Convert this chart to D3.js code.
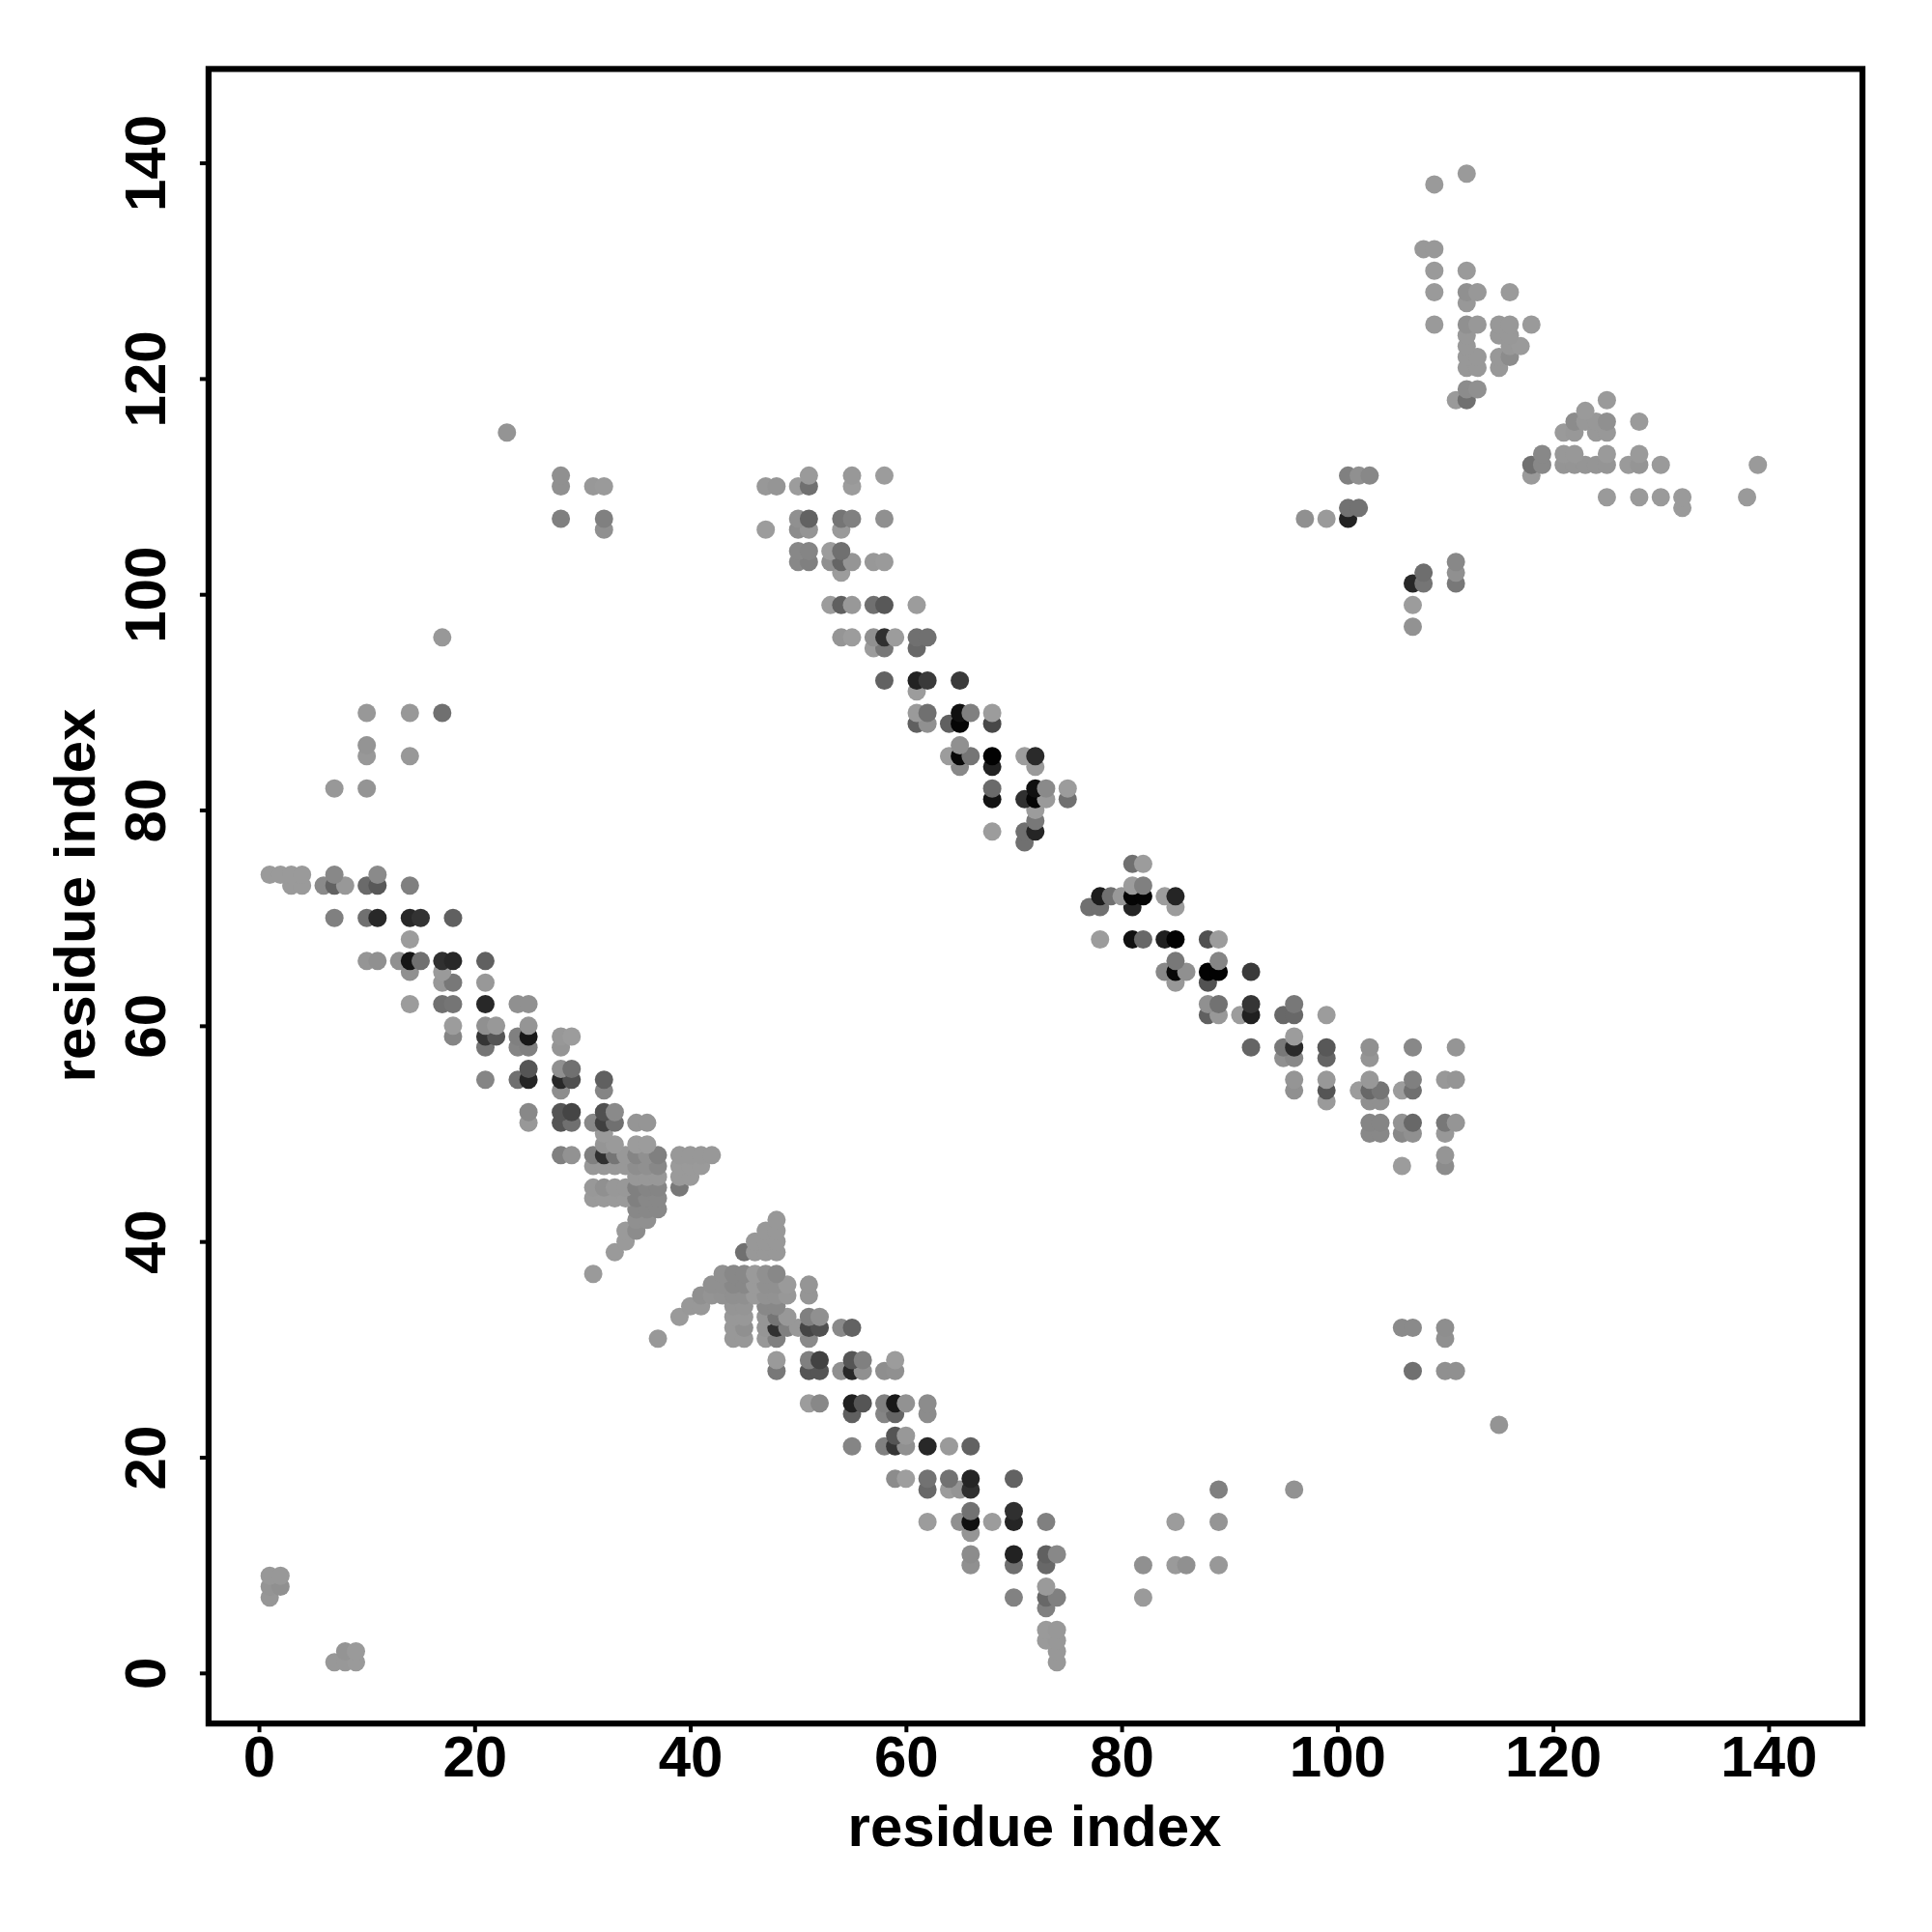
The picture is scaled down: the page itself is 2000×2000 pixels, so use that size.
<!DOCTYPE html>
<html><head><meta charset="utf-8">
<script src="https://cdn.jsdelivr.net/npm/d3@7/dist/d3.min.js"></script>
<style>html,body{margin:0;background:#fff}svg{display:block}</style>
</head><body><script>
const axisTicks=[0,20,40,60,80,100,120,140];
const axisTitle="residue index";
// residue j of each row (ascending, the drawing order)
const rowJ=[1,2,3,4,6,7,8,9,10,11,13,14,15,17,18,21,22,23,24,25,28,29,31,32,33,34,35,36,37,39,40,41,42,43,44,45,46,47,48,49,50,51,52,53,54,55,56,57,58,59,60,61,62,64,65,66,68,70,71,72,73,74,75,77,78,79,80,81,82,84,85,86,88,89,91,92,95,96,97,99,101,102,103,104,106,107,108,109,110,111,112,113,115,116,117,118,119,121,122,123,124,125,127,128,130,132,138,139];
// for each row: residue i, contact strength (0 weak .. 158 strong), repeated
const rowContacts=[
[7,6,8,6,9,4,74,6],
[8,10,9,4,74,6],
[73,4,74,6],
[73,4,74,6],
[73,30],
[1,8,70,28,73,54,74,30,82,4],
[1,10,2,14,73,4],
[1,6,2,6],
[66,14,70,46,73,54,82,14,85,4,86,14,89,6],
[66,18,70,124,73,62,74,22],
[66,9],
[62,2,65,14,66,142,68,2,70,121,73,30,85,2,89,9],
[66,44,70,110],
[62,54,64,2,65,9,66,110,89,30,96,12],
[59,18,60,0,62,44,64,44,66,121,70,60],
[55,25,58,30,59,105,60,14,62,118,64,4,66,60],
[59,73,60,6],
[115,10],
[55,62,58,25,59,57,62,18],
[51,2,52,22,55,126,56,73,58,30,59,134,60,12,62,18],
[48,38,51,73,52,73,54,14,55,118,56,14,58,16,59,14,107,46,110,14,111,14],
[48,4,51,30,52,92,55,73,56,30,59,2],
[37,6,44,6,45,6,47,6,48,30,51,20,110,14],
[44,6,45,14,47,9,48,110,49,30,50,6,51,89,52,78,54,20,55,60,106,20,107,20,110,16],
[39,4,44,6,45,6,47,9,48,41,49,6,51,30,52,14],
[40,6,41,6,44,9,45,9,47,22,48,22],
[41,14,42,10,43,12,44,14,45,14,46,4,47,12,48,12,49,6,51,9],
[42,14,43,14,44,22,45,22,46,4,47,14,48,14,49,4,51,9],
[31,4,43,14,44,22,45,22,46,4,47,14,48,22],
[33,4,45,46,46,6,47,6,48,6],
[34,4,46,6,47,6,48,6],
[34,4,35,18,47,6,48,6],
[35,14,36,14,48,6],
[35,22,36,22,37,22],
[31,4,32,4,33,4,34,4,35,30,36,22,37,22],
[31,6,32,14,33,6,34,6,35,30,36,25,37,25,39,38],
[35,6,36,6,37,6,39,4,40,4],
[31,6,32,6,33,6,34,6,35,16,36,14,37,22,39,4,40,4,41,4,106,2,110,18],
[28,30,29,12,31,30,32,110,33,41,34,6,35,25,36,14,37,30,39,6,40,6,41,6,42,6,110,9],
[32,9,33,4,35,2,36,2],
[32,4,103,22,104,22,106,22,107,14,110,6],
[25,6,28,73,29,46,31,22,32,94,33,46,35,9,36,9,103,25,104,25,106,12,107,54,110,38,111,9],
[25,22,28,73,29,89,32,78,33,20],
[99,4,103,14,104,14],
[28,16,32,25,96,14,99,73,102,2,103,54,104,41,106,2,107,46],
[21,25,24,46,25,121,28,118,29,78,32,62,96,9,99,6,103,6,107,30,110,6,111,9],
[25,73,28,14,29,46],
[95,14,96,22,99,57,103,9],
[21,41,24,25,25,30,28,9,92,57,95,38,96,116,99,70,103,14,107,22,111,9],
[18,25,21,105,22,73,24,30,25,134,28,6,29,2,96,2],
[18,2,21,14,22,6,25,9],
[88,62,89,6,91,2,92,126,95,54,96,54,99,2],
[14,2,17,46,18,41,21,118,24,14,25,14,88,14,89,44,92,105,96,38],
[17,6,18,38,21,6,85,6,88,76],
[14,14,17,4,84,22,85,150,86,14,88,156,89,156,92,100],
[10,9,11,14,13,14,14,137,15,46,17,110,18,118,21,62,85,38,89,25],
[14,2,78,2,81,142,82,54,84,126,85,156,88,78,89,2],
[7,30,10,46,11,118,14,118,15,107,18,62],
[77,46,78,46,81,121,85,2],
[78,130,79,46,80,6,81,153,82,153,84,2,85,121],
[3,4,4,4,6,20,7,60,8,6,10,52,11,70,14,30,81,2,82,30],
[1,4,2,4,3,4,4,4,7,22,11,20],
[81,46,82,2],
[71,46],
[68,2,71,46,72,121],
[72,38],
[72,2],
[68,140,71,110,72,153,73,4,75,46],
[7,6,10,10,68,52,72,142,73,20,75,2],
[65,22,68,124,72,4],
[10,6,14,6,64,2,65,150,66,41,68,156,71,2,72,116],
[10,10,65,14],
[61,62,62,14,64,62,65,153,68,86],
[10,6,14,6,17,46,61,4,62,46,65,142,66,30,68,2],
[61,2],
[58,60,61,124,62,100,65,100],
[57,2,58,38,61,54],
[17,6,54,9,55,2,57,14,58,110,59,2,61,46,62,46],
[107,12],
[53,2,54,62,55,6,57,46,58,70,61,2,107,2],
[107,118,108,41,111,38],
[54,2,108,48,111,14],
[50,22,51,30,53,14,54,57,55,9,57,6,58,4,111,22],
[50,22,51,25,53,2,54,46],
[32,14,47,2,50,18,51,9,54,4],
[28,30,32,30,50,14,51,60,54,41,55,30,58,14,97,14,99,4,101,124],
[101,44,102,44,132,4],
[125,4,128,4,130,4,132,4,138,4],
[28,14,31,6,32,4,47,6,48,9,50,2,51,46,55,2],
[28,14,51,4,55,6,58,2,101,30,102,14,103,22,118,4],
[118,46,119,22,121,9,122,9,123,9,124,9,125,9,127,4,128,9,130,4,139,4],
[119,22,121,6,122,6,125,4,128,4],
[23,10,121,4,122,6,124,6,125,6],
[122,18,123,6,124,6,125,14,128,4],
[123,4],
[111,4,112,46,125,4],
[112,18,113,14],
[112,6,113,6,115,6],
[112,6,113,6,115,6,116,18],
[112,6,116,6,117,4],
[112,6,115,6,116,6],
[109,4,112,14,113,6,115,6,116,6,118,4],
[112,6],
[109,4,112,14,113,6,116,4],
[109,4,112,4],
[108,6,109,6],
[109,4],
[112,4]];
const width=2000,height=2000;
const x=d3.scaleLinear().domain([-4.67,148.7]).range([215.9,1928]);
const y=d3.scaleLinear().domain([-4.69,148.7]).range([1784.2,71.4]);
const shade=d3.scaleLinear().domain([0,158]).range(["#9e9e9e","#000000"]);
const pts=rowJ.flatMap((j,r)=>d3.pairs(rowContacts[r]).filter((_,k)=>k%2===0).map(([i,s])=>({i,j,s})).sort((a,b)=>a.i-b.i));
const svg=d3.select("body").append("svg").attr("width",width).attr("height",height).attr("font-family","'Liberation Sans',Arial,sans-serif").attr("font-weight","bold");
svg.append("g").selectAll("circle").data(pts).join("circle").attr("cx",d=>x(d.i)).attr("cy",d=>y(d.j)).attr("r",9.5).attr("fill",d=>shade(d.s));
const gx=svg.append("g").attr("transform","translate(0,1784.2)").call(d3.axisBottom(x).tickValues(axisTicks).tickSize(9).tickPadding(3.4));
const gy=svg.append("g").attr("transform","translate(215.9,0)").call(d3.axisLeft(y).tickValues(axisTicks).tickSize(9).tickPadding(0));
[gx,gy].forEach(g=>{g.select(".domain").remove();g.selectAll(".tick line").attr("stroke","#000").attr("stroke-width",4);g.selectAll("text").attr("font-size",60).attr("font-family","'Liberation Sans',Arial,sans-serif").attr("font-weight","bold").attr("fill","#000");});
gy.selectAll("text").attr("text-anchor","middle").attr("x",null).attr("y",null).attr("dy",null).attr("transform","translate(-45.2,0) rotate(-90)");
svg.append("rect").attr("x",x.range()[0]).attr("y",y.range()[1]).attr("width",x.range()[1]-x.range()[0]).attr("height",y.range()[0]-y.range()[1]).attr("fill","none").attr("stroke","#000").attr("stroke-width",6.2);
svg.append("text").attr("x",1071).attr("y",1911).attr("text-anchor","middle").attr("font-size",60).text(axisTitle);
svg.append("text").attr("transform","translate(98,927) rotate(-90)").attr("text-anchor","middle").attr("font-size",60).text(axisTitle);
</script></body></html>
